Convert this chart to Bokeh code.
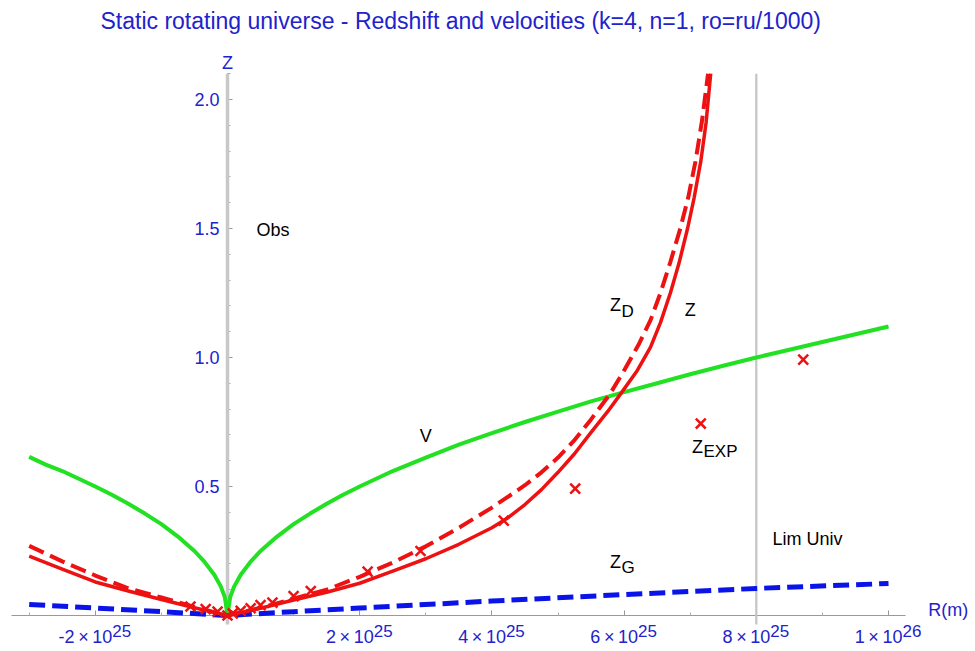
from bokeh.plotting import figure
from bokeh.models import Range1d, FixedTicker, LinearAxis, Label
from bokeh.embed import file_html
from bokeh.resources import INLINE

E25 = 1e25

# ---------------- data (R in units of 1e25 m) ----------------
title_text = "Static rotating universe - Redshift and velocities (k=4, n=1, ro=ru/1000)"

v_r = [-3.0, -2.75, -2.5, -2.25, -2.0, -1.75, -1.5, -1.25, -1.0, -0.75, -0.5, -0.35, -0.2, -0.1,
       -0.04, 0.0, 0.04, 0.1, 0.2, 0.35, 0.5, 0.75, 1.0, 1.25, 1.5, 1.75, 2.0, 2.5, 3.0, 3.5, 4.0,
       4.5, 5.0, 5.5, 6.0, 6.5, 7.0, 7.5, 8.0, 8.5, 9.0, 9.5, 10.0]
v_val = [0.615, 0.585, 0.56, 0.53, 0.50, 0.468, 0.433, 0.395, 0.354, 0.306, 0.25, 0.209, 0.158,
         0.112, 0.071, 0.0, 0.071, 0.112, 0.158, 0.209, 0.25, 0.306, 0.354, 0.395, 0.433, 0.468,
         0.50, 0.56, 0.612, 0.662, 0.707, 0.75, 0.79, 0.83, 0.866, 0.90, 0.935, 0.968, 1.0, 1.03,
         1.06, 1.09, 1.12]

z_r = [-3.0, -2.5, -2.0, -1.5, -1.0, -0.5, 0.0, 0.5, 1.0, 1.5, 2.0, 2.5, 3.0, 3.5, 4.0, 4.25,
       4.5, 4.75, 5.0, 5.25, 5.5, 5.75, 5.95, 6.2, 6.4, 6.55, 6.7, 6.83, 6.96, 7.06, 7.16, 7.24,
       7.31]
z_val = [0.23, 0.18, 0.13, 0.095, 0.062, 0.03, 0.0, 0.028, 0.06, 0.09, 0.125, 0.172, 0.22, 0.276,
         0.34, 0.38, 0.43, 0.488, 0.555, 0.627, 0.71, 0.79, 0.86, 0.95, 1.04, 1.135, 1.25, 1.365,
         1.50, 1.62, 1.76, 1.91, 2.10]

zd_r = [-3.0, -2.5, -2.0, -1.5, -1.0, -0.5, 0.0, 0.5, 1.0, 1.5, 2.0, 2.5, 3.0, 3.5, 4.0, 4.5,
        4.75, 5.0, 5.25, 5.5, 5.79, 6.0, 6.22, 6.4, 6.55, 6.7, 6.85, 6.97, 7.08, 7.18, 7.27]
zd_val = [0.27, 0.21, 0.155, 0.105, 0.07, 0.033, 0.0, 0.03, 0.065, 0.10, 0.15, 0.205, 0.268, 0.34,
          0.418, 0.505, 0.555, 0.612, 0.68, 0.76, 0.86, 0.95, 1.05, 1.145, 1.25, 1.37, 1.50, 1.62,
          1.76, 1.92, 2.10]

zg_r = [-3.0, -2.0, -1.0, 0.0, 1.0, 2.0, 4.0, 6.0, 8.0, 10.0]
zg_val = [0.043, 0.029, 0.015, 0.0, 0.015, 0.029, 0.056, 0.081, 0.105, 0.124]

exp_r = [-0.56, -0.33, -0.15, 0.0, 0.08, 0.2, 0.35, 0.5, 0.68, 1.0, 1.26, 2.12, 2.92, 4.18,
         5.26, 7.16, 8.71]
exp_z = [0.035, 0.025, 0.015, 0.0, 0.008, 0.018, 0.028, 0.04, 0.05, 0.075, 0.095, 0.17, 0.25,
         0.368, 0.492, 0.744, 0.992]

vline_r = [0.0, 8.0]          # Obs, Lim Univ
vline_z = [-0.035, 2.1]

x_major = [-2.0, 2.0, 4.0, 6.0, 8.0, 10.0]
x_minor = [-3.0, -1.0, 1.0, 3.0, 5.0, 7.0, 9.0]
x_tick_base = ["-2\u2009\u00d7\u200910", "2\u2009\u00d7\u200910", "4\u2009\u00d7\u200910",
               "6\u2009\u00d7\u200910", "8\u2009\u00d7\u200910", "1\u2009\u00d7\u200910"]
x_tick_exp = ["25", "25", "25", "25", "25", "26"]
y_major = [0.5, 1.0, 1.5, 2.0]
y_major_labels = ["0.5", "1.0", "1.5", "2.0"]
y_minor = [0.1, 0.2, 0.3, 0.4, 0.6, 0.7, 0.8, 0.9, 1.1, 1.2, 1.3, 1.4, 1.6, 1.7, 1.8, 1.9, 2.1]

# ---------------- styles ----------------
BLUE_TXT = "#2222cc"
FONT = "Liberation Sans"

def m(lst):
    return [a * E25 for a in lst]

p = figure(width=975, height=651, output_backend="svg", toolbar_location=None,
           x_range=Range1d(-3.434 * E25, 11.316 * E25), y_range=Range1d(-0.1395, 2.2364),
           x_axis_location=None, y_axis_location=None,
           min_border_left=0, min_border_right=0, min_border_top=0, min_border_bottom=0)
p.title.text = title_text
p.title.align = "left"
p.title.offset = 100
p.title.text_font = FONT
p.title.text_font_size = "23px"
p.title.text_font_style = "normal"
p.title.text_color = BLUE_TXT
p.grid.visible = False
p.outline_line_color = None
p.background_fill_color = "white"

# axes crossing at origin
xax = LinearAxis(fixed_location=0, ticker=FixedTicker(ticks=m(x_major), minor_ticks=m(x_minor)),
                 bounds=(-3.27 * E25, 10.26 * E25))
xax.major_label_overrides = {t * E25: "" for t in x_major}
xax.major_label_text_font_size = "1px"
xax.axis_line_color = "#999999"
xax.major_tick_line_color = "#999999"
xax.minor_tick_line_color = "#aaaaaa"
xax.major_tick_in = 5
xax.major_tick_out = 0
xax.minor_tick_in = 3
xax.minor_tick_out = 0
xax.level = "underlay"
p.add_layout(xax, "below")

yax = LinearAxis(fixed_location=0, ticker=FixedTicker(ticks=y_major, minor_ticks=y_minor),
                 bounds=(0, 2.1))
yax.major_label_overrides = dict(zip(y_major, y_major_labels))
yax.axis_line_color = "#999999"
yax.major_tick_line_color = "#999999"
yax.minor_tick_line_color = "#aaaaaa"
yax.major_tick_in = 5
yax.major_tick_out = 0
yax.minor_tick_in = 3
yax.minor_tick_out = 0
yax.major_label_standoff = 8
yax.major_label_text_font = FONT
yax.major_label_text_font_size = "18px"
yax.major_label_text_color = BLUE_TXT
yax.level = "underlay"
p.add_layout(yax, "left")

# vertical reference lines
p.line([vline_r[0] * E25] * 2, vline_z, line_color="#c8c8c8", line_width=3.5)
p.line([vline_r[1] * E25] * 2, vline_z, line_color="#c4c4c4", line_width=2.2)

# curves
p.line(m(zg_r), zg_val, line_color="#0a14e8", line_width=5, line_dash="16 7")
p.line(m(v_r), v_val, line_color="#22e022", line_width=4, line_join="round")
p.line(m(z_r), z_val, line_color="#ee1111", line_width=3.5, line_join="round")
p.line(m(zd_r), zd_val, line_color="#ee1111", line_width=4, line_dash="16 7")
p.scatter(m(exp_r), exp_z, marker="x", size=14, line_color="#ee1111", line_width=2.5)

# tick labels of x axis (base + exponent)
for t, b, e in zip(x_major, x_tick_base, x_tick_exp):
    off = 17 if b.startswith("-") else 14
    p.add_layout(Label(x=t * E25, y=0, x_offset=off, y_offset=-21, text=b, text_align="right",
                       text_baseline="alphabetic", text_font=FONT, text_font_size="18px",
                       text_color=BLUE_TXT))
    p.add_layout(Label(x=t * E25, y=0, x_offset=off, y_offset=-15, text=e, text_align="left",
                       text_baseline="alphabetic", text_font=FONT, text_font_size="17px",
                       text_color=BLUE_TXT))

# axis labels
p.add_layout(Label(x=0, y=2.143, text="Z", text_align="center", text_baseline="middle",
                   text_font=FONT, text_font_size="18px", text_color=BLUE_TXT))
p.add_layout(Label(x=10.6 * E25, y=0.023, text="R(m)", text_align="left", text_baseline="middle",
                   text_font=FONT, text_font_size="18px", text_color=BLUE_TXT))

# curve annotations
def lab(x, y, text, align="center", size="18px", xo=0, yo=0):
    p.add_layout(Label(x=x * E25, y=y, x_offset=xo, y_offset=yo, text=text, text_align=align,
                       text_baseline="middle", text_font=FONT, text_font_size=size,
                       text_color="black"))

lab(0.44, 1.496, "Obs", align="left")
lab(3.0, 0.694, "V")
lab(7.0, 1.186, "Z")
lab(5.87, 1.202, "Z")
lab(5.87, 1.202, "D", align="left", size="17px", xo=6, yo=-6)
lab(7.11, 0.655, "Z")
lab(7.11, 0.655, "EXP", align="left", size="17px", xo=6, yo=-5)
lab(5.87, 0.209, "Z")
lab(5.87, 0.209, "G", align="left", size="17px", xo=6, yo=-6)
lab(8.245, 0.298, "Lim Univ", align="left")

open("out.html", "w").write(file_html(p, INLINE))
